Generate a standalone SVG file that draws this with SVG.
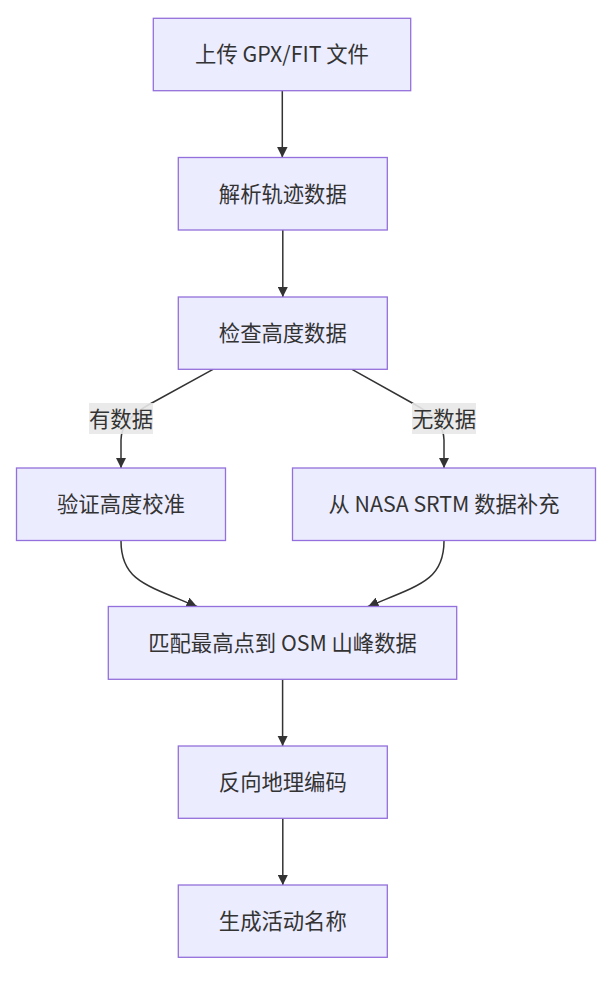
<svg xmlns="http://www.w3.org/2000/svg" width="616" height="986" viewBox="0 0 616 986">
<style>
.node rect{fill:#ECECFF;stroke:#9370DB;stroke-width:1.3}
.node text,.elabel text{font-family:"Noto Sans CJK SC","Liberation Sans",sans-serif;font-size:21.33px;fill:#333;text-anchor:middle}
.edges path{fill:none;stroke:#333;stroke-width:1.5}
.elabel rect{fill:#e8e8e8;opacity:0.9}
</style>
<defs>
<marker id="arrow" viewBox="0 0 10 10" refX="10" refY="5" markerWidth="10.5" markerHeight="10.5" markerUnits="userSpaceOnUse" orient="auto">
<path d="M0,0 L10,5 L0,10 z" fill="#333"/>
</marker>
</defs>
<rect width="616" height="986" fill="#fff"/>
<g id="edges" class="edges">
<path d="M282.3,90.7 L282.3,157.5" marker-end="url(#arrow)"/>
<path d="M282.8,230 L282.8,297" marker-end="url(#arrow)"/>
<path d="M213,369.3 L150,404 Q121,420 121,440 L121,468" marker-end="url(#arrow)"/>
<path d="M352,369.3 L414,404 Q444,420 444,440 L444,468" marker-end="url(#arrow)"/>
<path d="M121,541 C121,580 145,585 197,606.5" marker-end="url(#arrow)"/>
<path d="M444,541 C444,580 420,585 368,606.5" marker-end="url(#arrow)"/>
<path d="M282.6,679.3 L282.6,746" marker-end="url(#arrow)"/>
<path d="M282.8,818.3 L282.8,885" marker-end="url(#arrow)"/>
</g>
<g id="label-yes" class="elabel">
<rect x="89" y="403" width="64" height="31"/>
<text x="121" y="426.5">有数据</text>
</g>
<g id="label-no" class="elabel">
<rect x="412" y="403" width="64" height="31"/>
<text x="444" y="426.5">无数据</text>
</g>
<g id="n1" class="node">
<rect x="153.3" y="18.3" width="257.4" height="72.4"/>
<text x="282" y="62.3">上传 GPX/FIT 文件</text>
</g>
<g id="n2" class="node">
<rect x="178.3" y="157.5" width="209" height="72.5"/>
<text x="282.8" y="201.6">解析轨迹数据</text>
</g>
<g id="n3" class="node">
<rect x="178.3" y="297" width="209" height="72.3"/>
<text x="282.8" y="341">检查高度数据</text>
</g>
<g id="n4" class="node">
<rect x="16.5" y="468" width="209" height="72.5"/>
<text x="121" y="512.1">验证高度校准</text>
</g>
<g id="n5" class="node">
<rect x="292.5" y="468" width="303" height="72.5"/>
<text x="444" y="512.1">从 NASA SRTM 数据补充</text>
</g>
<g id="n6" class="node">
<rect x="108.3" y="606.5" width="348.4" height="72.8"/>
<text x="282.5" y="650.7">匹配最高点到 OSM 山峰数据</text>
</g>
<g id="n7" class="node">
<rect x="178.3" y="746" width="209" height="72.3"/>
<text x="282.8" y="790">反向地理编码</text>
</g>
<g id="n8" class="node">
<rect x="178.3" y="885" width="209" height="72.3"/>
<text x="282.8" y="929">生成活动名称</text>
</g>
</svg>
